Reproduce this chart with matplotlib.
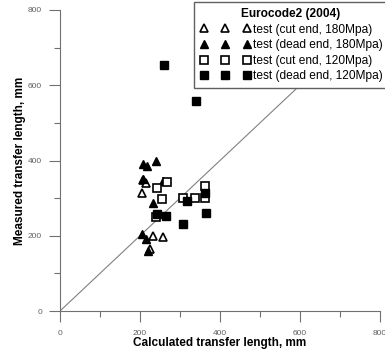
import matplotlib
matplotlib.use("Agg")
import matplotlib.pyplot as plt

plt.rcParams['font.family'] = ['Liberation Sans', 'DejaVu Sans']

# Data (calculated, measured) in mm
cut180_x = [208, 204, 233, 258, 225, 215]
cut180_y = [347, 313, 200, 198, 164, 340]
dead180_x = [208, 218, 240, 208, 232, 258, 204, 215, 221]
dead180_y = [391, 386, 399, 350, 286, 345, 204, 191, 160]
cut120_x = [243, 267, 254, 308, 337, 362, 362, 240]
cut120_y = [326, 344, 298, 300, 300, 332, 300, 249]
dead120_x = [260, 340, 242, 265, 307, 318, 362, 365]
dead120_y = [655, 558, 258, 253, 231, 292, 313, 260]

line_x = [0, 800]
line_y = [0, 800]

xticks = [0, 200, 400, 600, 800]
yticks = [0, 200, 400, 600, 800]

fig = plt.figure(figsize=(3.85, 3.49), dpi=100)
ax = fig.add_axes([60/385, 1-311/349, 320/385, 301/349])

ax.plot(line_x, line_y, color='#808080', lw=0.8, zorder=1)
ms = 5.5
ax.plot(cut180_x, cut180_y, ls='none', marker='^', ms=ms, mfc='white', mec='black', mew=1.2,
        label='test (cut end, 180Mpa)', clip_on=False, zorder=3)
ax.plot(dead180_x, dead180_y, ls='none', marker='^', ms=ms, mfc='black', mec='black', mew=1.0,
        label='test (dead end, 180Mpa)', clip_on=False, zorder=3)
ax.plot(cut120_x, cut120_y, ls='none', marker='s', ms=ms, mfc='white', mec='black', mew=1.2,
        label='test (cut end, 120Mpa)', clip_on=False, zorder=3)
ax.plot(dead120_x, dead120_y, ls='none', marker='s', ms=ms, mfc='black', mec='black', mew=1.0,
        label='test (dead end, 120Mpa)', clip_on=False, zorder=3)

ax.set_xlim(0, 800)
ax.set_ylim(0, 800)
ax.set_xticks(xticks)
ax.set_yticks(yticks)
ax.set_xticks([100, 300, 500, 700], minor=True)
ax.set_yticks([100, 300, 500, 700], minor=True)
ax.tick_params(which='major', direction='out', length=8, width=0.8, color='#707070',
               labelsize=6, labelcolor='#606060', pad=6)
ax.tick_params(axis='y', which='major', pad=5)
ax.tick_params(which='minor', direction='out', length=4, width=0.8, color='#707070')
for s in ['top', 'right']:
    ax.spines[s].set_visible(False)
for s in ['left', 'bottom']:
    ax.spines[s].set_color('#707070')
    ax.spines[s].set_linewidth(0.8)

ax.set_xlabel('Calculated transfer length, mm', fontsize=8.5, fontweight='bold', labelpad=0)
ax.set_ylabel('Measured transfer length, mm', fontsize=8.5, fontweight='bold', labelpad=1)

leg = ax.legend(loc='upper left', bbox_to_anchor=(194/385, 1 - 2/349), bbox_transform=fig.transFigure,
                numpoints=3, handlelength=4.2, handletextpad=0.2, fontsize=8.6,
                title='Eurocode2 (2004)', title_fontproperties={'weight': 'bold', 'size': 8.6},
                fancybox=False, edgecolor='#606060', framealpha=1, borderpad=0.5,
                labelspacing=0.3, borderaxespad=0)
leg.get_frame().set_linewidth(1.0)
leg.set_zorder(5)

fig.savefig('out.png', dpi=100)
